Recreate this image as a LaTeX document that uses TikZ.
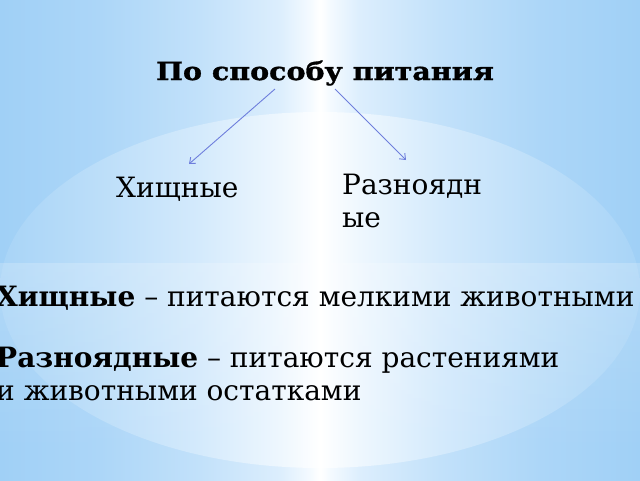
\documentclass[tikz,border=0pt]{standalone}
\usepackage{fontspec}
\setmainfont{DejaVu Serif}
\newfontfamily\titlefont[FakeStretch=1.14, BoldFeatures={FakeBold=1.3}]{DejaVu Serif}
\usetikzlibrary{arrows.meta,fadings}
\definecolor{bgA}{HTML}{A0D0F6}
\definecolor{bgB}{HTML}{ACD6F8}
\definecolor{bgC}{HTML}{C2E1FA}
\definecolor{bgD}{HTML}{DCEEFD}
\definecolor{bgE}{HTML}{F4FAFF}
\definecolor{elA}{HTML}{A8D4F7}
\definecolor{elB}{HTML}{BCDEF9}
\definecolor{elC}{HTML}{D4EAFC}
\definecolor{elD}{HTML}{EEF7FE}
\definecolor{arrowblue}{HTML}{6E7EDC}
\pgfdeclarehorizontalshading{bgshade}{100bp}{color(0bp)=(bgA); color(25bp)=(bgA); color(32.8bp)=(bgB); color(40.6bp)=(bgC); color(46.9bp)=(bgD); color(49.2bp)=(bgE); color(50bp)=(white); color(50.8bp)=(bgE); color(53.1bp)=(bgD); color(59.4bp)=(bgC); color(67.2bp)=(bgB); color(75bp)=(bgA); color(100bp)=(bgA)}
\pgfdeclarehorizontalshading{elshade}{100bp}{color(0bp)=(elA); color(25bp)=(elA); color(32.8bp)=(elB); color(40.6bp)=(elC); color(46.9bp)=(elD); color(50bp)=(white); color(53.1bp)=(elD); color(59.4bp)=(elC); color(67.2bp)=(elB); color(75bp)=(elA); color(100bp)=(elA)}
\tikzset{
  txt/.style={inner sep=0pt, font=\fontsize{28}{33}\selectfont, text=black},
  ttl/.style={inner sep=0pt, font=\titlefont\fontsize{25}{30}\selectfont\bfseries, text=black},
  conn/.style={draw=arrowblue, line width=0.9pt, -{Straight Barb[length=5pt,width=8pt]}}
}
\begin{document}
\begin{tikzpicture}[x=1pt,y=-1pt]
\useasboundingbox (0,0) rectangle (640,480);
% background
\shade[shading=bgshade] (0,0) rectangle (640,480);
\shade[shading=elshade] (320,290) ellipse [x radius=320, y radius=178];
\fill[white, opacity=0.2, path fading=south] (0,263) rectangle (640,450);
% texts
\node[ttl, anchor=base] (title) at (325,80) {По способу питания};
\node[txt, anchor=base west] (pred) at (116,197) {Хищные};
\node[txt, anchor=base west, align=left] (omni) at (342,227) {Разноядн\\ые};
\node[txt, anchor=base west] (def1) at (-4,306) {\textbf{Хищные} – питаются мелкими животными};
\node[txt, anchor=base west, align=left] (def2) at (-4,400) {\textbf{Разноядные} – питаются растениями\\и животными остатками};
% connectors
\coordinate (ls) at (275,89);
\coordinate (le) at (189,164);
\coordinate (rs) at (335,89);
\coordinate (re) at (406,160);
\draw[conn] (ls) -- (le);
\draw[conn] (rs) -- (re);
\end{tikzpicture}
\end{document}
